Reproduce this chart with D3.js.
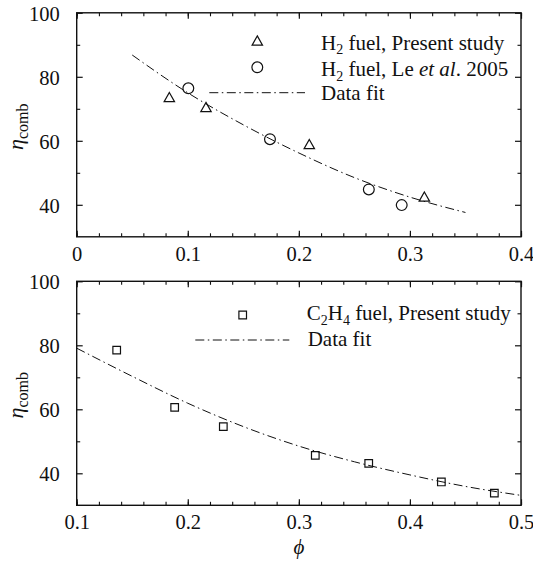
<!DOCTYPE html>
<html><head><meta charset="utf-8">
<script src="https://cdn.jsdelivr.net/npm/d3@7"></script>
<style>
body{margin:0;background:#fff}
svg{display:block}
svg text{font-family:"Liberation Serif","DejaVu Serif","Noto Serif",serif;fill:#111}
</style>
</head><body>
<svg id="chart" width="533" height="565"></svg>
<script>
// Upper panel: H2 fuel
const h2PresentPhi = [0.0834, 0.1164, 0.2094, 0.313];
const h2PresentEta = [73.6, 70.5, 58.9, 42.5];
const h2LePhi = [0.1005, 0.174, 0.263, 0.2926];
const h2LeEta = [76.4, 60.5, 44.8, 39.9];
const h2FitPhi = [0.05, 0.1, 0.15, 0.2, 0.25, 0.3, 0.35];
const h2FitEta = [86.8, 75.0, 65.0, 56.2, 48.5, 42.4, 37.6];

// Lower panel: C2H4 fuel
const c2h4Phi = [0.136, 0.1882, 0.232, 0.3148, 0.3629, 0.4283, 0.476];
const c2h4Eta = [78.5, 60.6, 54.6, 45.6, 43.1, 37.3, 33.8];
const c2h4FitPhi = [0.1, 0.15, 0.2, 0.25, 0.3, 0.35, 0.4, 0.45, 0.5];
const c2h4FitEta = [79.1, 70.3, 61.9, 54.6, 48.5, 43.6, 39.5, 35.9, 33.1];

// Axis ticks and labels
const topXTicks = [0, 0.1, 0.2, 0.3, 0.4];
const topXLabels = ["0", "0.1", "0.2", "0.3", "0.4"];
const botXTicks = [0.1, 0.2, 0.3, 0.4, 0.5];
const botXLabels = ["0.1", "0.2", "0.3", "0.4", "0.5"];
const yTicks = [40, 60, 80, 100];
const yLabels = ["40", "60", "80", "100"];
const yMinorTicks = [50, 70, 90];

const svg = d3.select("#chart");
const INK = "#111";
const SERIF = "'Liberation Serif','DejaVu Serif','Noto Serif',serif";
const FIT_DASH = "9,3.5,1.5,3.5";

function zipPts(xs, ys) { return xs.map((x, i) => [x, ys[i]]); }

function drawPanel(p) {
  const x = d3.scaleLinear().domain(p.xDomain).range([p.left, p.right]);
  const y = d3.scaleLinear().domain([30, 100]).range([p.bottom, p.top]);
  const g = svg.append("g").attr("font-family", SERIF);

  const xMinor = d3.range(p.xDomain[0], p.xDomain[1] + 1e-9, 0.02).map(v => +v.toFixed(3));

  // minor ticks (all four sides, pointing inward)
  const minor = [
    [d3.axisBottom(x).tickValues(xMinor), `translate(0,${p.bottom})`],
    [d3.axisTop(x).tickValues(xMinor), `translate(0,${p.top})`],
    [d3.axisLeft(y).tickValues(yMinorTicks), `translate(${p.left},0)`],
    [d3.axisRight(y).tickValues(yMinorTicks), `translate(${p.right},0)`]
  ];
  minor.forEach(([ax, tr]) => {
    const a = g.append("g").attr("transform", tr)
      .call(ax.tickSizeInner(-3.5).tickSizeOuter(0).tickFormat(""));
    a.select(".domain").remove();
    a.selectAll("line").attr("stroke", INK).attr("stroke-width", 1.1);
  });

  // major ticks with labels
  const xb = g.append("g").attr("transform", `translate(0,${p.bottom})`)
    .call(d3.axisBottom(x).tickValues(p.xTicks).tickSizeInner(-6).tickSizeOuter(0)
      .tickPadding(0).tickFormat((d, i) => p.xLabels[i]));
  xb.selectAll("text").attr("font-size", 20.5).attr("y", 24).attr("dy", null);
  const xt = g.append("g").attr("transform", `translate(0,${p.top})`)
    .call(d3.axisTop(x).tickValues(p.xTicks).tickSizeInner(-6).tickSizeOuter(0).tickFormat(""));
  const yl = g.append("g").attr("transform", `translate(${p.left},0)`)
    .call(d3.axisLeft(y).tickValues(yTicks).tickSizeInner(-6).tickSizeOuter(0)
      .tickPadding(0).tickFormat((d, i) => yLabels[i]));
  yl.selectAll("text").attr("font-size", 20.5).attr("x", -17).attr("dy", "0.36em");
  const yr = g.append("g").attr("transform", `translate(${p.right},0)`)
    .call(d3.axisRight(y).tickValues(yTicks).tickSizeInner(-6).tickSizeOuter(0).tickFormat(""));
  [xb, xt, yl, yr].forEach(a => {
    a.attr("font-family", SERIF);
    a.select(".domain").remove();
    a.selectAll("line").attr("stroke", INK).attr("stroke-width", 1.2);
    a.selectAll("text").attr("fill", INK);
  });

  // frame
  g.append("rect")
    .attr("x", p.left).attr("y", p.top)
    .attr("width", p.right - p.left).attr("height", p.bottom - p.top)
    .attr("fill", "none").attr("stroke", INK).attr("stroke-width", 1.4);

  // y-axis title: eta_comb
  const yt = g.append("text")
    .attr("transform", `translate(23,${(p.top + p.bottom) / 2 + 2}) rotate(-90)`)
    .attr("text-anchor", "middle");
  yt.append("tspan").attr("font-style", "italic").attr("font-size", 22).text("η");
  yt.append("tspan").attr("font-size", 16).attr("dy", 5).text("comb");

  return { g, x, y };
}

const line = (x, y) => d3.line().x(d => x(d[0])).y(d => y(d[1])).curve(d3.curveMonotoneX);

function fitPath(g, x, y, pts) {
  g.append("path").datum(pts)
    .attr("d", line(x, y))
    .attr("fill", "none").attr("stroke", INK).attr("stroke-width", 1)
    .attr("stroke-dasharray", FIT_DASH);
}

const triangle = "M0,-4.8L5.2,4.4L-5.2,4.4Z";
const square = "M-3.8,-3.8H3.8V3.8H-3.8Z";

function markerPath(g, shape, cx, cy) {
  g.append("path").attr("d", shape)
    .attr("transform", `translate(${cx},${cy})`)
    .attr("fill", "none").attr("stroke", INK).attr("stroke-width", 1.2);
}
function markerCircle(g, cx, cy) {
  g.append("circle").attr("cx", cx).attr("cy", cy).attr("r", 5.4)
    .attr("fill", "none").attr("stroke", INK).attr("stroke-width", 1.2);
}

// legend entry text with a chemical-formula subscript
function subText(g, tx, ty, parts) {
  const t = g.append("text").attr("x", tx).attr("y", ty).attr("font-size", 21);
  let shift = 0;
  parts.forEach(pt => {
    const s = t.append("tspan").text(pt.t);
    if (pt.sub) { s.attr("font-size", 14).attr("dy", 4.5 - shift); shift = 4.5; }
    else if (shift) { s.attr("dy", -shift); shift = 0; }
    if (pt.it) s.attr("font-style", "italic");
  });
}

// ---------- upper panel ----------
const upper = drawPanel({
  xDomain: [0, 0.4], xTicks: topXTicks, xLabels: topXLabels,
  left: 76.7, right: 521, top: 12.8, bottom: 236.8
});
fitPath(upper.g, upper.x, upper.y, zipPts(h2FitPhi, h2FitEta));
zipPts(h2PresentPhi, h2PresentEta).forEach(d => markerPath(upper.g, triangle, upper.x(d[0]), upper.y(d[1])));
zipPts(h2LePhi, h2LeEta).forEach(d => markerCircle(upper.g, upper.x(d[0]), upper.y(d[1])));

markerPath(upper.g, triangle, 257.3, 40.7);
subText(upper.g, 321, 49.5, [{t: "H"}, {t: "2", sub: true}, {t: " fuel, Present study"}]);
markerCircle(upper.g, 257.3, 67.3);
subText(upper.g, 321, 76, [{t: "H"}, {t: "2", sub: true}, {t: " fuel, Le "}, {t: "et al", it: true}, {t: ". 2005"}]);
upper.g.append("line").attr("x1", 209.3).attr("x2", 305).attr("y1", 92.7).attr("y2", 92.7)
  .attr("stroke", INK).attr("stroke-width", 1).attr("stroke-dasharray", FIT_DASH);
subText(upper.g, 321, 100, [{t: "Data fit"}]);

// ---------- lower panel ----------
const lower = drawPanel({
  xDomain: [0.1, 0.5], xTicks: botXTicks, xLabels: botXLabels,
  left: 76.7, right: 521, top: 281.3, bottom: 505.3
});
fitPath(lower.g, lower.x, lower.y, zipPts(c2h4FitPhi, c2h4FitEta));
zipPts(c2h4Phi, c2h4Eta).forEach(d => markerPath(lower.g, square, lower.x(d[0]), lower.y(d[1])));

markerPath(lower.g, square, 242.7, 315);
subText(lower.g, 306.7, 320, [{t: "C"}, {t: "2", sub: true}, {t: "H"}, {t: "4", sub: true}, {t: " fuel, Present study"}]);
lower.g.append("line").attr("x1", 195.3).attr("x2", 289.3).attr("y1", 340).attr("y2", 340)
  .attr("stroke", INK).attr("stroke-width", 1).attr("stroke-dasharray", FIT_DASH);
subText(lower.g, 307.7, 346, [{t: "Data fit"}]);

// x-axis title
svg.append("text").attr("x", 298.9).attr("y", 554).attr("text-anchor", "middle")
  .attr("font-family", SERIF).attr("font-size", 21).attr("font-style", "italic").text("ϕ");
</script>
</body></html>
